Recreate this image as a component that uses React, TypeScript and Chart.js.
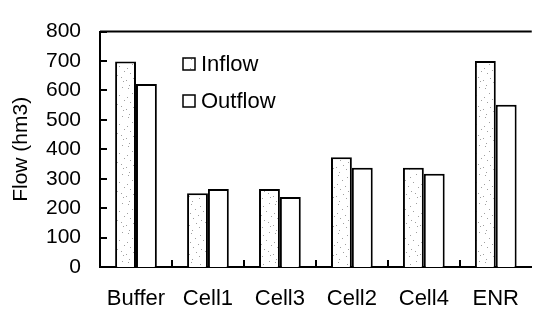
import React, { useEffect, useRef } from 'react';
import { Chart, registerables } from 'chart.js';
Chart.register(...registerables);

const FONT = "'Liberation Sans', Arial, Helvetica, sans-serif";

const categories = ['Buffer', 'Cell1', 'Cell3', 'Cell2', 'Cell4', 'ENR'];
const inflow = [698, 251, 265, 373, 337, 700];
const outflow = [622, 265, 238, 337, 317, 551];
const seriesLabels = ['Inflow', 'Outflow'];
const yMin = 0;
const yMax = 800;
const yStep = 100;
const yTitle = 'Flow (hm3)';

const stippleDots = [
  [2, 1], [11, 3], [17, 0], [6, 6], [14, 8], [1, 10], [9, 12], [19, 13],
  [4, 15], [12, 17], [16, 19], [7, 20], [0, 22], [10, 24], [18, 23], [3, 27],
];

function makeStipple(ctx: CanvasRenderingContext2D) {
  const w = 21;
  const h = 29;
  const c = document.createElement('canvas');
  c.width = w;
  c.height = h;
  const g = c.getContext('2d')!;
  g.fillStyle = '#ffffff';
  g.fillRect(0, 0, w, h);
  g.fillStyle = '#a0a0a0';
  stippleDots.forEach(([x, y]) => g.fillRect(x, y, 1, 1));
  return ctx.createPattern(c, 'repeat') as CanvasPattern;
}

const innerTicks = {
  id: 'innerTicks',
  afterDraw(chart: any) {
    const { ctx, chartArea, scales } = chart;
    ctx.save();
    ctx.strokeStyle = '#000';
    ctx.lineWidth = 2;
    ctx.beginPath();
    ctx.moveTo(chartArea.left, chartArea.top);
    ctx.lineTo(chartArea.right, chartArea.top);
    ctx.stroke();
    scales.y.ticks.forEach((t: any) => {
      const py = Math.round(scales.y.getPixelForValue(t.value));
      ctx.beginPath();
      ctx.moveTo(chartArea.left, py);
      ctx.lineTo(chartArea.left + 7, py);
      ctx.stroke();
    });
    for (let i = 0; i < categories.length - 1; i++) {
      const px = Math.round((scales.x.getPixelForValue(i) + scales.x.getPixelForValue(i + 1)) / 2);
      ctx.beginPath();
      ctx.moveTo(px, chartArea.bottom);
      ctx.lineTo(px, chartArea.bottom - 7);
      ctx.stroke();
    }
    ctx.restore();
  },
};

const customLegend = {
  id: 'customLegend',
  afterDraw(chart: any) {
    const { ctx } = chart;
    const items = chart.data.datasets;
    const x0 = 183;
    const ys = [64, 101];
    ctx.save();
    items.forEach((ds: any, i: number) => {
      const cy = ys[i];
      ctx.fillStyle = ds.backgroundColor;
      ctx.fillRect(x0, cy - 6, 12, 12);
      ctx.strokeStyle = '#000';
      ctx.lineWidth = 1.5;
      ctx.strokeRect(x0, cy - 6, 12, 12);
      ctx.fillStyle = '#000';
      ctx.font = `22px ${FONT}`;
      ctx.textBaseline = 'middle';
      ctx.textAlign = 'left';
      ctx.fillText(ds.label, 201, cy + 1);
    });
    ctx.restore();
  },
};

export default function App() {
  const ref = useRef<HTMLCanvasElement>(null);
  useEffect(() => {
    const canvas = ref.current!;
    const ctx = canvas.getContext('2d')!;
    const stipple = makeStipple(ctx);
    const chart = new Chart(canvas, {
      type: 'bar',
      data: {
        labels: categories,
        datasets: [
          {
            label: seriesLabels[0],
            data: inflow,
            backgroundColor: stipple as any,
            borderColor: '#000',
            borderWidth: 2,
            categoryPercentage: 0.58,
            barPercentage: 1.0,
          },
          {
            label: seriesLabels[1],
            data: outflow,
            backgroundColor: '#ffffff',
            borderColor: '#000',
            borderWidth: 2,
            categoryPercentage: 0.58,
            barPercentage: 1.0,
          },
        ],
      },
      options: {
        animation: false,
        responsive: false,
        devicePixelRatio: 1,
        layout: { padding: { top: 20, left: 0, right: 0, bottom: 0 } },
        plugins: {
          legend: { display: false },
          tooltip: { enabled: false },
        },
        scales: {
          x: {
            grid: { display: false, drawTicks: false },
            border: { display: true, color: '#000', width: 2 },
            ticks: { color: '#000', font: { family: FONT, size: 22 }, padding: 19, maxRotation: 0, autoSkip: false },
            afterFit: (s: any) => { s.height = 42; },
          },
          y: {
            min: yMin,
            max: yMax,
            grid: { display: false, drawTicks: false },
            border: { display: true, color: '#000', width: 2 },
            ticks: { stepSize: yStep, color: '#000', font: { family: FONT, size: 21 }, padding: 19 },
            title: {
              display: true,
              text: yTitle,
              color: '#000',
              font: { family: FONT, size: 21 },
              padding: { top: 9, bottom: 0 },
            },
            afterFit: (s: any) => { s.width = 100; },
          },
        },
      },
      plugins: [innerTicks, customLegend],
    });
    return () => chart.destroy();
  }, []);
  return (
    <div style={{ position: 'fixed', left: 0, top: 0, width: 535, height: 309, overflow: 'hidden', background: '#fff' }}>
      <canvas ref={ref} width={538} height={309} style={{ display: 'block' }} />
    </div>
  );
}
